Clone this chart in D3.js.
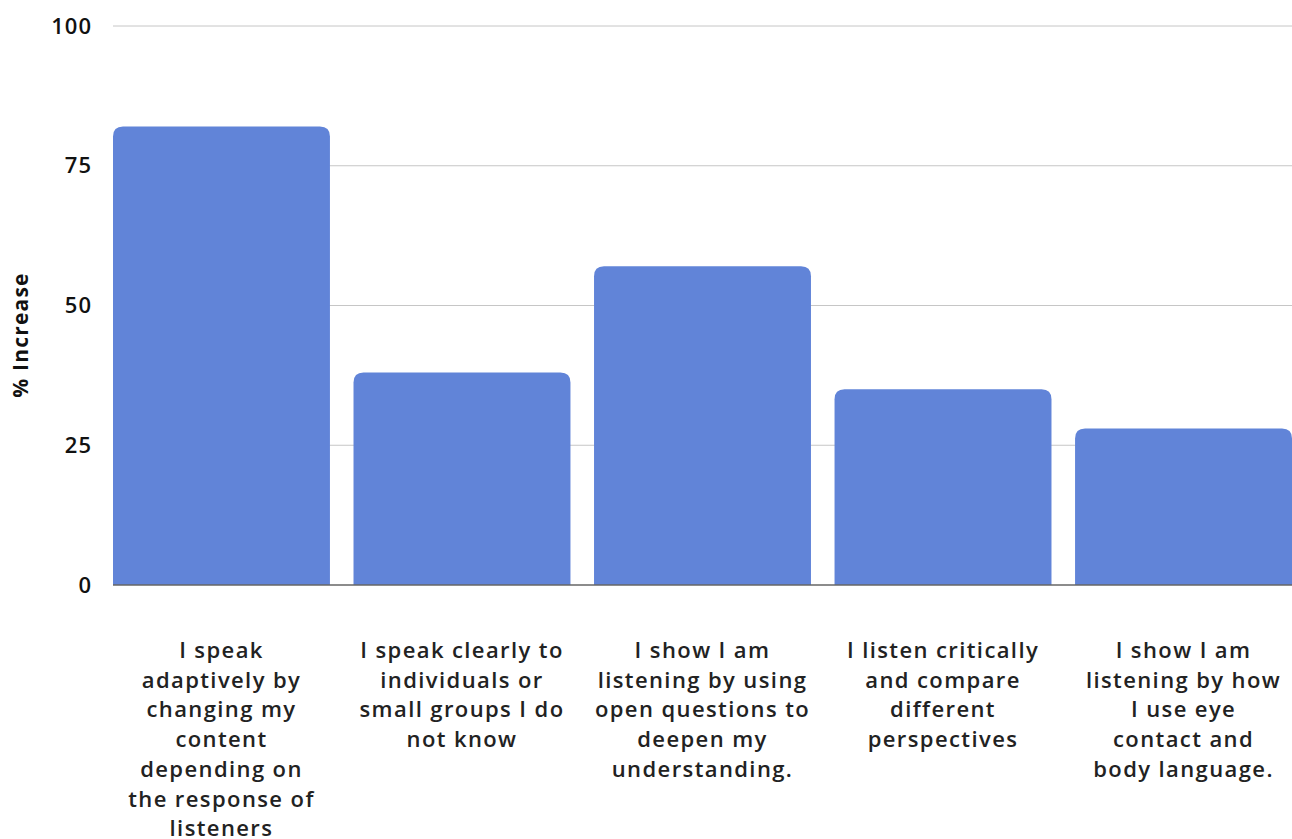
<!DOCTYPE html>
<html>
<head>
<meta charset="utf-8">
<script src="https://cdn.jsdelivr.net/npm/d3@7"></script>
<style>
  html, body { margin: 0; padding: 0; background: #fff; }
  svg { display: block; font-family: "Open Sans", Lato, sans-serif; }
</style>
</head>
<body>
<svg id="chart" width="1292" height="839"></svg>
<script>
// Skill statements and the percentage increase reported for each
const categories = [
  "I speak adaptively by changing my content depending on the response of listeners",
  "I speak clearly to individuals or small groups I do not know",
  "I show I am listening by using open questions to deepen my understanding.",
  "I listen critically and compare different perspectives",
  "I show I am listening by how I use eye contact and body language."
];
const labelLines = [
  ["I speak", "adaptively by", "changing my", "content", "depending on", "the response of", "listeners"],
  ["I speak clearly to", "individuals or", "small groups I do", "not know"],
  ["I show I am", "listening by using", "open questions to", "deepen my", "understanding."],
  ["I listen critically", "and compare", "different", "perspectives"],
  ["I show I am", "listening by how", "I use eye", "contact and", "body language."]
];
const values = [82, 38, 57, 35, 28];
const yTicks = [0, 25, 50, 75, 100];

const svg = d3.select("#chart");
const margin = { top: 26, right: 0, bottom: 254, left: 113 };
const width = 1292 - margin.left - margin.right;
const height = 839 - margin.top - margin.bottom;

const g = svg.append("g").attr("transform", `translate(${margin.left},${margin.top})`);

const x = d3.scaleBand().domain(categories).range([0, width]).paddingInner(0.098).paddingOuter(0);
const y = d3.scaleLinear().domain([0, 100]).range([height, 0]);

// Horizontal gridlines
g.append("g")
  .selectAll("line")
  .data(yTicks.filter(t => t > 0))
  .join("line")
  .attr("x1", 0).attr("x2", width)
  .attr("y1", d => y(d)).attr("y2", d => y(d))
  .attr("stroke", "#c6c6c6").attr("stroke-width", 1);

// Y tick labels
const yAxis = g.append("g").call(d3.axisLeft(y).tickValues(yTicks).tickSize(0).tickPadding(21));
yAxis.select(".domain").remove();
yAxis.selectAll("text")
  .attr("font-size", 22).attr("font-weight", 600).attr("fill", "#111")
  .attr("letter-spacing", 1)
  .attr("font-family", "'Open Sans', sans-serif");

// Bars with rounded top corners
const r = 10;
function barPath(x0, w, yTop, yBase) {
  const rr = Math.min(r, (yBase - yTop), w / 2);
  return `M${x0},${yBase}V${yTop + rr}Q${x0},${yTop} ${x0 + rr},${yTop}` +
         `H${x0 + w - rr}Q${x0 + w},${yTop} ${x0 + w},${yTop + rr}V${yBase}Z`;
}
g.append("g")
  .selectAll("path")
  .data(categories.map((c, i) => ({ c, v: values[i] })))
  .join("path")
  .attr("d", d => barPath(x(d.c), x.bandwidth(), y(d.v), y(0)))
  .attr("fill", "#6184d8");

// Baseline
g.append("line")
  .attr("x1", 0).attr("x2", width)
  .attr("y1", y(0)).attr("y2", y(0))
  .attr("stroke", "#666").attr("stroke-width", 1.5);

// Category labels, wrapped over several lines
const lab = g.append("g")
  .selectAll("text")
  .data(categories)
  .join("text")
  .attr("text-anchor", "middle")
  .attr("font-size", 22).attr("font-weight", 600).attr("fill", "#222")
  .attr("letter-spacing", 1.4)
  .attr("transform", d => `translate(${x(d) + x.bandwidth() / 2},${y(0) + 73})`);
lab.each(function (d, i) {
  d3.select(this).selectAll("tspan")
    .data(labelLines[i])
    .join("tspan")
    .attr("x", 0)
    .attr("y", (t, j) => j * 29.7)
    .text(t => t);
});

// Y axis title
svg.append("text")
  .attr("transform", `translate(28,${335}) rotate(-90)`)
  .attr("text-anchor", "middle")
  .attr("font-size", 21).attr("font-weight", 700).attr("fill", "#111")
  .attr("letter-spacing", 1.2)
  .text("% Increase");
</script>
</body>
</html>
